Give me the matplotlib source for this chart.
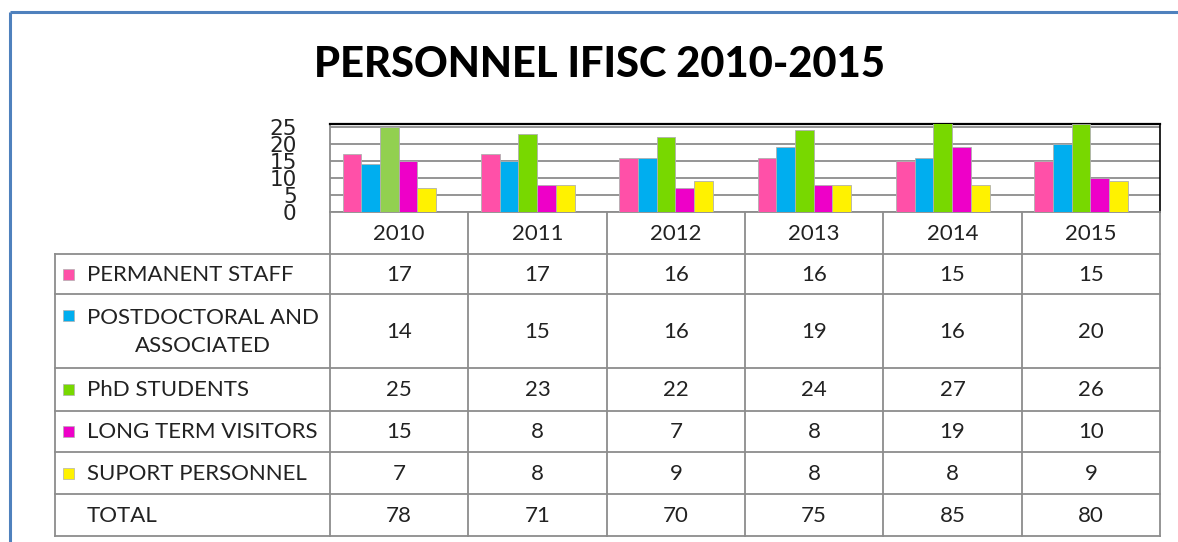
import numpy as np
import matplotlib.pyplot as plt

years = ['2010', '2011', '2012', '2013', '2014', '2015']
series_names = ['PERMANENT STAFF', 'POSTDOCTORAL AND\nASSOCIATED', 'PhD STUDENTS',
                'LONG TERM VISITORS', 'SUPORT PERSONNEL']
permanent = [17, 17, 16, 16, 15, 15]
postdoc = [14, 15, 16, 19, 16, 20]
phd = [25, 23, 22, 24, 27, 26]
visitors = [15, 8, 7, 8, 19, 10]
support = [7, 8, 9, 8, 8, 9]
total = [78, 71, 70, 75, 85, 80]
y_ticks = [0, 5, 10, 15, 20, 25]

series = [permanent, postdoc, phd, visitors, support]
colors = ['#FF50A8', '#00AEEF', '#78D800', '#EE00C8', '#FFF200']

plt.rcParams['font.family'] = ['Lato', 'DejaVu Sans']

W, H = 1178, 542
fig = plt.figure(figsize=(W / 100, H / 100), dpi=100)

# pixel helpers
def fx(x):
    return x / W

def fy(y):
    return 1 - y / H

# ---- bar chart area
px_left, px_right, px_top, px_bot = 330, 1160, 124, 212
ax = fig.add_axes([fx(px_left), fy(px_bot), fx(px_right - px_left), (px_bot - px_top) / H])
x = np.arange(len(years))
bw = 0.135
for i, vals in enumerate(series):
    cols = [colors[i]] * len(vals)
    if i == 2:
        cols[0] = '#92D050'  # 2010 green is lighter
    ax.bar(x + (i - 2) * bw - 0.07, vals, width=bw, color=cols,
           edgecolor='#B0B0B0', linewidth=0.6, zorder=3)
ax.set_xlim(-0.5, len(years) - 0.5)
ax.set_ylim(0, 25.9)
ax.set_yticks(y_ticks)
ax.set_xticks([])
ax.tick_params(axis='y', length=0, pad=24, labelsize=15.5)
for lab in ax.get_yticklabels():
    lab.set_family('DejaVu Sans')
    lab.set_color('#222222')
ax.yaxis.grid(True, color='#8C8C8C', linewidth=1.3, zorder=0)
ax.set_axisbelow(True)
for s in ['left', 'bottom']:
    ax.spines[s].set_color('#8C8C8C')
    ax.spines[s].set_linewidth(1.3)
ax.spines['top'].set_color('black')
ax.spines['top'].set_linewidth(1.6)
ax.spines['right'].set_color('black')
ax.spines['right'].set_linewidth(1.2)

# ---- table + frame overlay
tb = fig.add_axes([0, 0, 1, 1], zorder=-1)
tb.set_xlim(0, W)
tb.set_ylim(H, 0)
tb.axis('off')

# outer blue frame
tb.plot([10, W], [12, 12], color='#4F81BD', lw=2.2, solid_capstyle='butt')
tb.plot([10, 10], [12, H], color='#4F81BD', lw=2.2, solid_capstyle='butt')

fig.text(fx(600), fy(65), 'PERSONNEL IFISC 2010-2015', ha='center', va='center',
         fontsize=30, fontweight='black', color='black')

col_x = np.linspace(px_left, px_right, len(years) + 1)
row_y = [254, 294, 368, 411, 452, 494, 536]
lab_left = 55
gc = '#8C8C8C'
fs = 16

# header row: verticals only
for cx in col_x:
    tb.plot([cx, cx], [px_bot, row_y[-1]], color=gc, lw=1.3)
for j, yr in enumerate(years):
    tb.text((col_x[j] + col_x[j + 1]) / 2, (px_bot + row_y[0]) / 2 + 1, yr,
            ha='center', va='center', fontsize=fs, color='#222222')
for ry in row_y:
    tb.plot([lab_left, px_right], [ry, ry], color=gc, lw=1.3)
tb.plot([lab_left, lab_left], [row_y[0], row_y[-1]], color=gc, lw=1.3)

rows = series + [total]
names = series_names + ['TOTAL']
for r, (name, vals) in enumerate(zip(names, rows)):
    yc = (row_y[r] + row_y[r + 1]) / 2
    if r < len(series):
        ty = yc - 16 if r == 1 else yc
        tb.add_patch(plt.Rectangle((63, ty - 5.5), 11, 11, facecolor=colors[r],
                                   edgecolor='#B0B0B0', lw=0.5))
    tb.text(87, yc + 1, name, ha='left', va='center', multialignment='center',
            fontsize=fs, color='#222222', linespacing=1.45)
    for j, v in enumerate(vals):
        tb.text((col_x[j] + col_x[j + 1]) / 2, yc + 1, str(v), ha='center', va='center',
                fontsize=fs, color='#222222')

fig.savefig('out.png', dpi=100)
